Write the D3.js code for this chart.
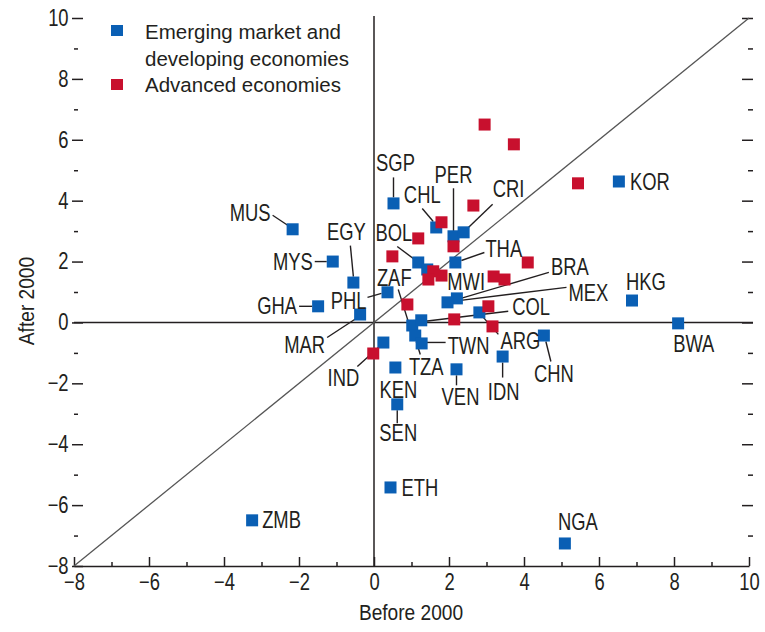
<!DOCTYPE html>
<html>
<head>
<meta charset="utf-8">
<script src="https://cdnjs.cloudflare.com/ajax/libs/d3/7.8.5/d3.min.js"></script>
<style>
  body { margin: 0; background: #fff; }
  text { font-family: "Liberation Sans", Arial, sans-serif; fill: #231f20; }
</style>
</head>
<body>
<script>
// growth before vs after 2000, emerging market and developing economies
let emCodes  = ['MUS', 'MYS', 'EGY', 'GHA', 'MAR', 'PHL', 'SGP', 'CHL', 'PER', 'CRI', 'BOL', 'MWI', 'ZAF', 'THA', 'BRA', 'MEX', 'COL', 'ARG', 'TZA', 'TWN', 'IND', 'KEN', 'SEN', 'VEN', 'IDN', 'CHN', 'KOR', 'HKG', 'BWA', 'ETH', 'ZMB', 'NGA']
let emBefore = [-2.17, -1.10, -0.55, -1.49, -0.37, 0.36, 0.52, 1.66, 2.12, 2.39, 1.18, 1.42, 1.02, 2.17, 2.21, 1.96, 1.26, 2.81, 1.10, 1.27, 0.25, 0.57, 0.62, 2.20, 3.43, 4.53, 6.53, 6.88, 8.11, 0.44, -3.25, 5.09]
let emAfter  = [3.06, 2.00, 1.31, 0.53, 0.26, 0.99, 3.91, 3.12, 2.83, 2.96, 1.97, 1.74, -0.10, 1.97, 0.79, 0.66, 0.07, 0.33, -0.43, -0.69, -0.66, -1.48, -2.69, -1.54, -1.12, -0.43, 4.63, 0.72, -0.03, -5.42, -6.50, -7.26]

// advanced economies (not labelled)
let advBefore = [2.95, 3.73, 5.44, 2.65, 1.80, 1.18, 2.12, 0.49, 4.10, 1.58, 1.80, 1.45, 3.19, 3.48, 0.89, 3.05, 2.14, 3.16, -0.02]
let advAfter  = [6.50, 5.85, 4.57, 3.84, 3.29, 2.76, 2.50, 2.17, 1.97, 1.68, 1.54, 1.41, 1.51, 1.41, 0.59, 0.53, 0.10, -0.13, -1.02]

let majorTicks = [-8, -6, -4, -2, 0, 2, 4, 6, 8, 10]
let minorTicks = [-7, -5, -3, -1, 1, 3, 5, 7, 9]

let legendItems = [['Emerging market and', 'developing economies'], ['Advanced economies']]

// label placement: anchor, text offset from the point, leader line (from, to)
let labelSpots = {
    MUS: ['end', -22, -8, [-20, -14, -5, -4]],
    MYS: ['end', -20, 8, [-18, 0, -6, 0]],
    EGY: ['middle', -7, -43, [-3, -37, 0, -6]],
    GHA: ['end', -21, 8, [-19, 0, -6, 0]],
    MAR: ['end', -35, 38, [-33, 23, -4, 4]],
    PHL: ['end', -21, 17, [-20, 5, -6, 1]],
    SGP: ['middle', 2, -32, [0, -26, 0, -6]],
    CHL: ['middle', -14, -24, [-14, -19, -3, -6]],
    PER: ['middle', 0, -53, [0, -48, 0, -5]],
    CRI: ['start', 29, -35, [29, -28, 4, -4]],
    BOL: ['end', -6, -21, [-21, -16, -5, -4]],
    MWI: ['start', 20, 21, null],
    ZAF: ['middle', -18, -39, [-14, -36, -4, -4]],
    THA: ['start', 30, -5, [29, -10, 6, -2]],
    BRA: ['start', 94, -23, [92, -26, 4, 0]],
    MEX: ['start', 121, -1, [119, -15, 5, -1]],
    COL: ['start', 91, -5, [87, -9, 4, 1]],
    ARG: ['start', 21, 37, [19, 22, 3, 4]],
    TZA: ['middle', 11, 39, [5, 19, 1, 6]],
    TWN: ['start', 26, 11, [24, -1, 5, -1]],
    IND: ['middle', -40, 43, [-26, 24, -5, 5]],
    KEN: ['middle', 3, 30, null],
    SEN: ['middle', 1, 37, [0, 19, 0, 6]],
    VEN: ['middle', 4, 36, [0, 16, 0, 6]],
    IDN: ['middle', 1, 43, [0, 21, 0, 6]],
    CHN: ['middle', 10, 46, [7, 26, 2, 6]],
    KOR: ['start', 11, 9, null],
    HKG: ['middle', 14, -11, null],
    BWA: ['start', -5, 29, null],
    ETH: ['start', 11, 9, null],
    ZMB: ['start', 10, 8, null],
    NGA: ['middle', 13, -13, null]
}

let blue = '#0a5fb4'
let red = '#c8102e'
let sq = 12
let narrow = 'scale(0.8,1)'   // no condensed font installed, squeeze instead

let svg = d3.select('body').append('svg')
    .attr('width', 765)
    .attr('height', 632)

let xScale = d3.scaleLinear().domain([-8, 10]).range([74, 749])
let yScale = d3.scaleLinear().domain([-8, 10]).range([566, 18])

// bottom axis, ticks pointing up
let bottom = svg.append('g')
    .attr('transform', 'translate(0,' + yScale(-8) + ')')
    .call(d3.axisBottom(xScale).tickValues(majorTicks).tickSize(-9).tickSizeOuter(0).tickPadding(8))
bottom.append('g')
    .call(d3.axisBottom(xScale).tickValues(minorTicks).tickSize(-4).tickFormat(''))
    .select('.domain').remove()

// left ticks, no axis line
let left = svg.append('g')
    .attr('transform', 'translate(83,0)')
    .call(d3.axisLeft(yScale).tickValues(majorTicks).tickSize(11).tickPadding(7))
left.select('.domain').remove()
svg.append('g')
    .attr('transform', 'translate(78,0)')
    .call(d3.axisLeft(yScale).tickValues(minorTicks).tickSize(4).tickFormat(''))
    .select('.domain').remove()

// right ticks
svg.append('g')
    .attr('transform', 'translate(753,0)')
    .call(d3.axisLeft(yScale).tickValues(majorTicks.slice(1)).tickSize(11).tickFormat(''))
    .select('.domain').remove()
svg.append('g')
    .attr('transform', 'translate(753,0)')
    .call(d3.axisLeft(yScale).tickValues(minorTicks).tickSize(5).tickFormat(''))
    .select('.domain').remove()

svg.selectAll('.tick line').attr('stroke', '#231f20').attr('stroke-width', 1.5)
svg.selectAll('.domain').attr('stroke', '#231f20').attr('stroke-width', 1.5)
svg.selectAll('.tick text')
    .attr('font-size', 23)
    .attr('fill', '#231f20')
    .attr('font-family', '"Liberation Sans", Arial, sans-serif')
    .attr('transform', narrow)

// zero lines and 45 degree line
svg.append('line')
    .attr('x1', xScale(-8)).attr('x2', 753)
    .attr('y1', yScale(0)).attr('y2', yScale(0))
    .attr('stroke', '#231f20').attr('stroke-width', 1.5)
svg.append('line')
    .attr('x1', xScale(0)).attr('x2', xScale(0))
    .attr('y1', yScale(10) - 2).attr('y2', yScale(-8))
    .attr('stroke', '#231f20').attr('stroke-width', 1.5)
svg.append('line')
    .attr('x1', xScale(-8)).attr('y1', yScale(-8))
    .attr('x2', xScale(10)).attr('y2', yScale(10))
    .attr('stroke', '#555').attr('stroke-width', 1.3)

// axis titles
svg.append('text')
    .attr('transform', 'translate(411,620) scale(0.87,1)')
    .attr('text-anchor', 'middle')
    .attr('font-size', 22)
    .text('Before 2000')
svg.append('text')
    .attr('transform', 'translate(34,301) rotate(-90) scale(0.87,1)')
    .attr('text-anchor', 'middle')
    .attr('font-size', 22)
    .text('After 2000')

let emData = emCodes.map((code, i) => {
    return { code: code, x: emBefore[i], y: emAfter[i] }
})
let advData = advBefore.map((b, i) => {
    return { x: b, y: advAfter[i] }
})

// leader lines
svg.selectAll('.leader')
    .data(emData.filter(d => labelSpots[d.code][3]))
    .enter()
    .append('line')
    .attr('class', 'leader')
    .attr('x1', d => xScale(d.x) + labelSpots[d.code][3][0])
    .attr('y1', d => yScale(d.y) + labelSpots[d.code][3][1])
    .attr('x2', d => xScale(d.x) + labelSpots[d.code][3][2])
    .attr('y2', d => yScale(d.y) + labelSpots[d.code][3][3])
    .attr('stroke', '#231f20')
    .attr('stroke-width', 1.4)

svg.selectAll('.em')
    .data(emData)
    .enter()
    .append('rect')
    .attr('class', 'em')
    .attr('x', d => xScale(d.x) - sq / 2)
    .attr('y', d => yScale(d.y) - sq / 2)
    .attr('width', sq)
    .attr('height', sq)
    .attr('fill', blue)

svg.selectAll('.adv')
    .data(advData)
    .enter()
    .append('rect')
    .attr('class', 'adv')
    .attr('x', d => xScale(d.x) - sq / 2)
    .attr('y', d => yScale(d.y) - sq / 2)
    .attr('width', sq)
    .attr('height', sq)
    .attr('fill', red)

svg.selectAll('.lbl')
    .data(emData)
    .enter()
    .append('text')
    .attr('class', 'lbl')
    .attr('transform', d => 'translate(' + (xScale(d.x) + labelSpots[d.code][1]) + ',' + (yScale(d.y) + labelSpots[d.code][2]) + ') ' + narrow)
    .attr('text-anchor', d => labelSpots[d.code][0])
    .attr('font-size', 23)
    .text(d => d.code)

// legend
let legend = svg.append('g').attr('transform', 'translate(111,0)')
legend.append('rect').attr('x', 0).attr('y', 25).attr('width', 12).attr('height', 11).attr('fill', blue)
legend.append('rect').attr('x', 0).attr('y', 79).attr('width', 12).attr('height', 11).attr('fill', red)
legend.append('text')
    .attr('x', 34).attr('y', 39)
    .attr('font-size', 20.5)
    .selectAll('tspan')
    .data(legendItems[0])
    .enter()
    .append('tspan')
    .attr('x', 34)
    .attr('dy', (d, i) => i === 0 ? 0 : 27)
    .text(d => d)
legend.append('text')
    .attr('x', 34).attr('y', 92)
    .attr('font-size', 20.5)
    .text(legendItems[1][0])
</script>
</body>
</html>
